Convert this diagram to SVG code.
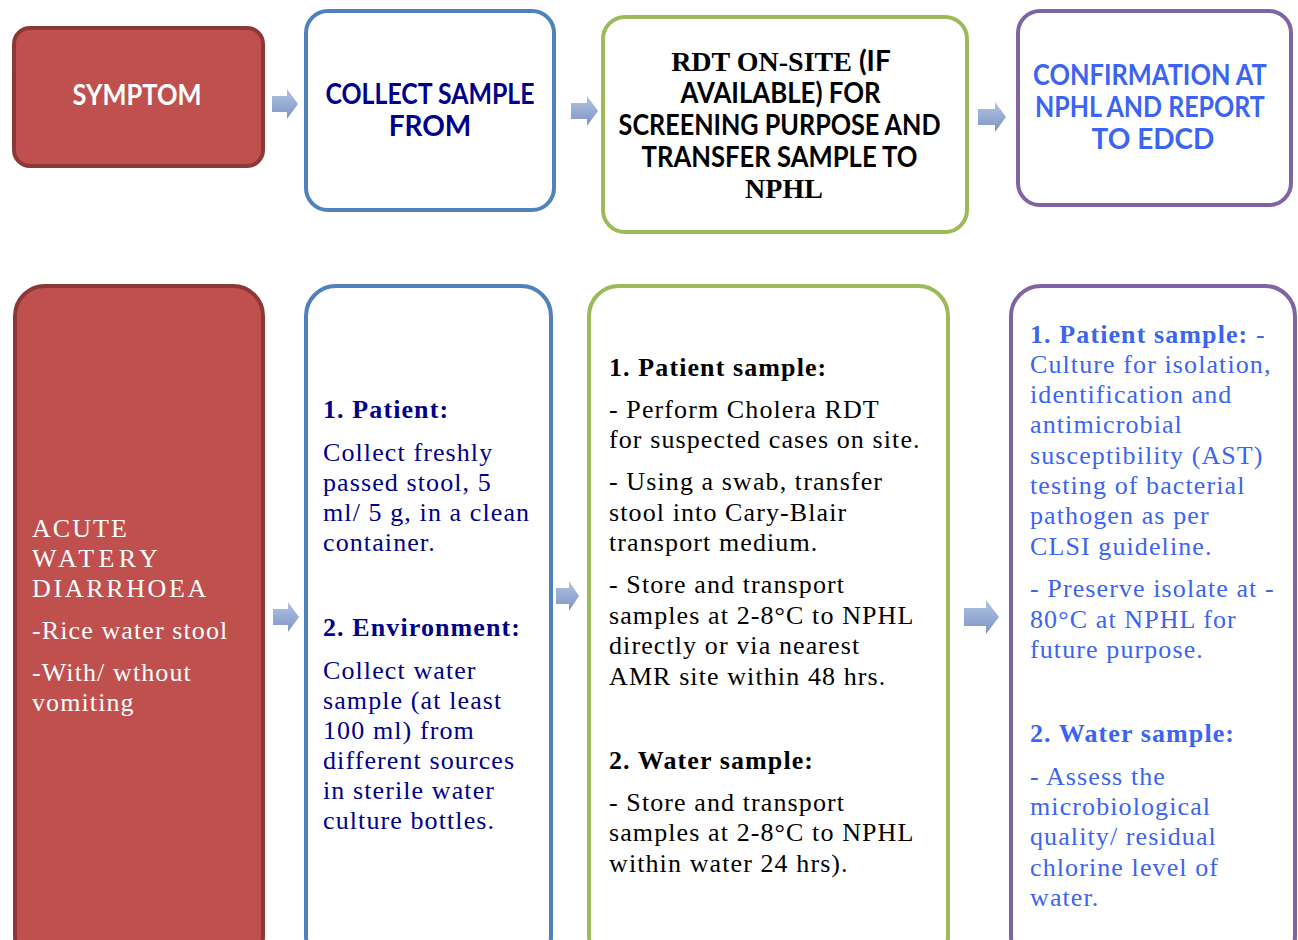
<svg xmlns="http://www.w3.org/2000/svg" width="1298" height="940" viewBox="0 0 1298 940">
<defs>
<linearGradient id="ag" x1="0" y1="0" x2="0" y2="1">
<stop offset="0" stop-color="#b2c4e4"/>
<stop offset="1" stop-color="#7c94c3"/>
</linearGradient>
<style>
.red{fill:#c0504d;stroke:#8c3836;stroke-width:4}
.blue{fill:#fff;stroke:#4f81bd;stroke-width:4}
.green{fill:#fff;stroke:#9bbb59;stroke-width:4}
.purple{fill:#fff;stroke:#8064a2;stroke-width:4}
.hd{font-family:Lato,"Open Sans","Liberation Sans",sans-serif;font-weight:bold;font-size:28px;text-anchor:middle}
.sf{font-family:"Liberation Serif","Times New Roman",serif;font-weight:bold}
.body{font-family:"Liberation Serif","Times New Roman",serif;font-size:26px;letter-spacing:1.1px}
.b{font-weight:bold}
.arrow{fill:url(#ag)}
</style>
</defs>
<rect width="1298" height="940" fill="#fff"/>

<g id="symptom">
<rect class="red" x="14" y="28" width="249" height="138" rx="16"/>
<text class="hd" x="137" y="105" fill="#fff" textLength="129" lengthAdjust="spacingAndGlyphs">SYMPTOM</text>
</g>

<g id="collect-sample">
<rect class="blue" x="306" y="11" width="248" height="199" rx="22"/>
<text class="hd" fill="#00008b"><tspan x="430" y="104" textLength="209" lengthAdjust="spacingAndGlyphs">COLLECT SAMPLE</tspan><tspan x="430" y="136">FROM</tspan></text>
</g>

<g id="rdt-onsite">
<rect class="green" x="603" y="17" width="364" height="215" rx="22"/>
<text class="hd" fill="#000">
<tspan x="784" y="71"><tspan class="sf">RDT ON-SITE </tspan>(IF</tspan>
<tspan x="784" y="103" textLength="200" lengthAdjust="spacingAndGlyphs">AVAILABLE) FOR</tspan>
<tspan x="783" y="135" textLength="322" lengthAdjust="spacingAndGlyphs">SCREENING PURPOSE AND</tspan>
<tspan x="783" y="167" textLength="276" lengthAdjust="spacingAndGlyphs">TRANSFER  SAMPLE TO</tspan>
<tspan x="784" y="198" class="sf">NPHL</tspan>
</text>
</g>

<g id="confirmation">
<rect class="purple" x="1018" y="11" width="273" height="194" rx="22"/>
<text class="hd" fill="#3b64f2">
<tspan x="1153" y="85" textLength="233" lengthAdjust="spacingAndGlyphs">CONFIRMATION AT</tspan>
<tspan x="1153" y="117" textLength="229" lengthAdjust="spacingAndGlyphs">NPHL AND REPORT</tspan>
<tspan x="1153" y="149">TO EDCD</tspan>
</text>
</g>

<g id="acute-watery-diarrhoea">
<rect class="red" x="15" y="286" width="248" height="680" rx="30"/>
<text class="body" fill="#fff">
<tspan x="32" y="537" textLength="96">ACUTE</tspan>
<tspan x="32" y="567" textLength="126">WATERY</tspan>
<tspan x="32" y="597" textLength="174">DIARRHOEA</tspan>
<tspan x="32" y="639">-Rice water stool</tspan>
<tspan x="32" y="681">-With/ wthout</tspan>
<tspan x="32" y="711">vomiting</tspan>
</text>
</g>

<g id="collect-details">
<rect class="blue" x="306" y="286" width="245" height="680" rx="30"/>
<text class="body" fill="#00008b">
<tspan x="323" y="418" class="b">1. Patient:</tspan>
<tspan x="323" y="461">Collect freshly</tspan>
<tspan x="323" y="491">passed stool, 5</tspan>
<tspan x="323" y="521">ml/ 5 g, in a clean</tspan>
<tspan x="323" y="551">container.</tspan>
<tspan x="323" y="636" class="b">2. Environment:</tspan>
<tspan x="323" y="679">Collect water</tspan>
<tspan x="323" y="709">sample  (at least</tspan>
<tspan x="323" y="739">100 ml) from</tspan>
<tspan x="323" y="769">different sources</tspan>
<tspan x="323" y="799">in sterile water</tspan>
<tspan x="323" y="829">culture bottles.</tspan>
</text>
</g>

<g id="rdt-details">
<rect class="green" x="589" y="286" width="359" height="680" rx="30"/>
<text class="body" fill="#000">
<tspan x="609" y="376" class="b">1. Patient sample:</tspan>
<tspan x="609" y="418">- Perform Cholera RDT</tspan>
<tspan x="609" y="448">for suspected cases on site.</tspan>
<tspan x="609" y="490">- Using a swab, transfer</tspan>
<tspan x="609" y="521">stool into Cary-Blair</tspan>
<tspan x="609" y="551">transport medium.</tspan>
<tspan x="609" y="593">- Store and transport</tspan>
<tspan x="609" y="624">samples at 2-8°C to NPHL</tspan>
<tspan x="609" y="654">directly or via nearest</tspan>
<tspan x="609" y="685">AMR site within 48 hrs.</tspan>
<tspan x="609" y="769" class="b">2. Water sample:</tspan>
<tspan x="609" y="811">- Store and transport</tspan>
<tspan x="609" y="841">samples at 2-8°C to NPHL</tspan>
<tspan x="609" y="872">within water 24 hrs).</tspan>
</text>
</g>

<g id="confirmation-details">
<rect class="purple" x="1011" y="286" width="284" height="680" rx="30"/>
<text class="body" fill="#3b64f2">
<tspan x="1030" y="343"><tspan class="b">1. Patient sample:</tspan>  -</tspan>
<tspan x="1030" y="373">Culture for isolation,</tspan>
<tspan x="1030" y="403">identification and</tspan>
<tspan x="1030" y="433">antimicrobial</tspan>
<tspan x="1030" y="464">susceptibility (AST)</tspan>
<tspan x="1030" y="494">testing of bacterial</tspan>
<tspan x="1030" y="524">pathogen as per</tspan>
<tspan x="1030" y="555">CLSI guideline.</tspan>
<tspan x="1030" y="597">- Preserve isolate at -</tspan>
<tspan x="1030" y="628">80°C at NPHL for</tspan>
<tspan x="1030" y="658">future purpose.</tspan>
<tspan x="1030" y="742" class="b">2. Water sample:</tspan>
<tspan x="1030" y="785">- Assess the</tspan>
<tspan x="1030" y="815">microbiological</tspan>
<tspan x="1030" y="845">quality/ residual</tspan>
<tspan x="1030" y="876">chlorine level of</tspan>
<tspan x="1030" y="906">water.</tspan>
</text>
</g>

<g id="connectors">
<path class="arrow" d="M272 96 h15 v-7 l11 15 l-11 15 v-7 h-15 z"/>
<path class="arrow" d="M571 103 h16 v-7 l11 15 l-11 15 v-7 h-16 z"/>
<path class="arrow" d="M978 109 h17 v-7 l11 15 l-11 15 v-7 h-17 z"/>
<path class="arrow" d="M273 609 h15 v-7 l11 15 l-11 15 v-7 h-15 z"/>
<path class="arrow" d="M556 588 h13 v-7 l10 15 l-10 15 v-7 h-13 z"/>
<path class="arrow" d="M964 608 h22 v-8 l13 17 l-13 17 v-8 h-22 z"/>
</g>
</svg>
